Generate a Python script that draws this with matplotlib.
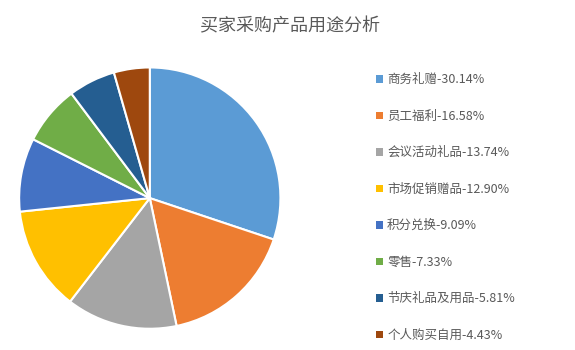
import matplotlib.pyplot as plt
from matplotlib.patches import Patch

plt.rcParams['font.family'] = ['Noto Sans CJK SC', 'DejaVu Sans']

# 数据
labels = ['商务礼赠', '员工福利', '会议活动礼品', '市场促销赠品',
          '积分兑换', '零售', '节庆礼品及用品', '个人购买自用']
shares = [30.14, 16.58, 13.74, 12.90, 9.09, 7.33, 5.81, 4.43]
colors = ['#5B9BD5', '#ED7D31', '#A5A5A5', '#FFC000',
          '#4472C4', '#70AD47', '#255E91', '#9E480E']

fig = plt.figure(figsize=(5.75, 3.5), dpi=100)
ax = fig.add_axes([0.031, 0.057, 0.459, 0.754])

wedges, _ = ax.pie(shares, colors=colors, startangle=90, counterclock=False,
                   wedgeprops=dict(edgecolor='white', linewidth=1.5))
ax.set_xlim(-1.01, 1.01)
ax.set_ylim(-1.01, 1.01)
ax.set_aspect('equal')

fig.text(0.505, 0.925, '买家采购产品用途分析', ha='center', va='center',
         fontsize=13, color='#595959')

handles = [Patch(facecolor=c, edgecolor='none') for c in colors]
leg_labels = [f'{l}-{v:.2f}%' for l, v in zip(labels, shares)]
leg = fig.legend(handles, leg_labels, loc='upper left',
                 bbox_to_anchor=(0.645, 0.805), frameon=False,
                 fontsize=9, labelspacing=1.88, handlelength=0.55,
                 handleheight=0.55, handletextpad=0.35, borderaxespad=0)
for t in leg.get_texts():
    t.set_color('#595959')

fig.savefig('out.png', dpi=100)
